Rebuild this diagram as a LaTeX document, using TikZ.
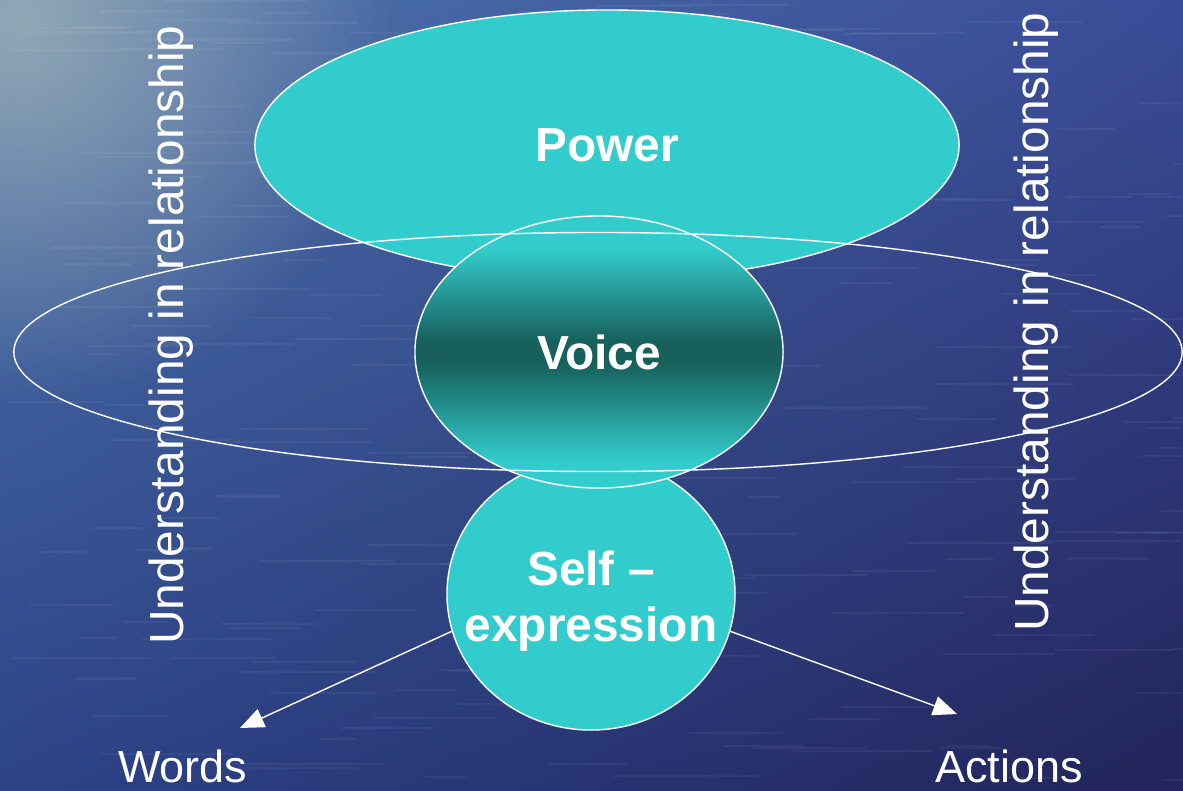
\documentclass[tikz,border=0pt]{standalone}
\usepackage{fontspec}
\setmainfont{Liberation Sans}
\usetikzlibrary{shapes.geometric,arrows.meta,fadings,shadings}

\definecolor{seacyan}{HTML}{33CCCC}
\definecolor{seateal}{HTML}{17605C}
\definecolor{seamist}{HTML}{A3B4B8}
\definecolor{waterul}{RGB}{77,118,172}
\definecolor{waterur}{RGB}{58,76,152}
\definecolor{waterll}{RGB}{44,67,136}
\definecolor{waterlr}{RGB}{34,36,90}

% dark band across the middle of the voice bubble
\pgfdeclareverticalshading{voiceshade}{100bp}{color(0bp)=(seacyan); color(30bp)=(seacyan);
  color(48bp)=(seateal); color(52bp)=(seateal); color(69bp)=(seacyan); color(100bp)=(seacyan)}
\tikzfading[name=glow, inner color=transparent!0, outer color=transparent!100]

\begin{document}
\begin{tikzpicture}[
  x=0.025cm, y=-0.025cm,
  bubble/.style={ellipse, draw=white, line width=1pt, fill=seacyan, inner sep=0pt,
    text=white, align=center, font=\fontsize{34}{40}\selectfont\bfseries},
  bubbletext/.style={text=white, align=center, inner sep=0pt,
    font=\fontsize{34}{40}\selectfont\bfseries},
  loopring/.style={ellipse, draw=white, line width=1pt, inner sep=0pt},
  side/.style={text=white, rotate=90, anchor=base west, inner sep=0pt,
    font=\fontsize{34}{40}\selectfont},
  tag/.style={text=white, anchor=base west, inner sep=0pt,
    font=\fontsize{32}{38}\selectfont},
  link/.style={draw=white, line width=1pt, -{Triangle[length=17pt,width=14pt]}}
]

\useasboundingbox (0,0) rectangle (1183,790);
\clip (0,0) rectangle (1183,790);

% water
\shade[upper left=waterul, upper right=waterur, lower left=waterll, lower right=waterlr]
  (0,0) rectangle (1183,790);
\fill[seamist, opacity=.8, path fading=glow] (20,20) circle (380);
\pgfmathsetseed{42}
\foreach \k in {1,...,220}{
  \pgfmathsetmacro{\sx}{rnd*1183}
  \pgfmathsetmacro{\sy}{rnd*790}
  \pgfmathsetmacro{\sl}{30+rnd*120}
  \draw[white, opacity=.05, line width=1.5pt, line cap=round] (\sx,\sy) -- ++(\sl,0);
}

\node[bubble, minimum width=17.6cm, minimum height=6.75cm] (power) at (607,145) {Power};
\node[bubble, minimum width=7.2cm, minimum height=6.8cm] (self) at (591,594) {};
\node[bubbletext] (selftext) at (591,601) {Self --\\expression};
\node[bubble, shading=voiceshade, minimum width=9.2cm, minimum height=6.8cm] (voice) at (599,352) {Voice};
\node[loopring, minimum width=29.2cm, minimum height=5.975cm] (ring) at (598,352) {};

\node[side] (leftside) at (183,645) {Understanding in relationship};
\node[side] (rightside) at (1048,632) {Understanding in relationship};

\node[tag] (words) at (118,782) {Words};
\node[tag] (actions) at (935,782) {Actions};

\coordinate (wordstip) at (240,728);
\coordinate (actionstip) at (957,714);
\draw[link] (self.195) -- (wordstip);
\draw[link] (self.345) -- (actionstip);

\end{tikzpicture}
\end{document}
